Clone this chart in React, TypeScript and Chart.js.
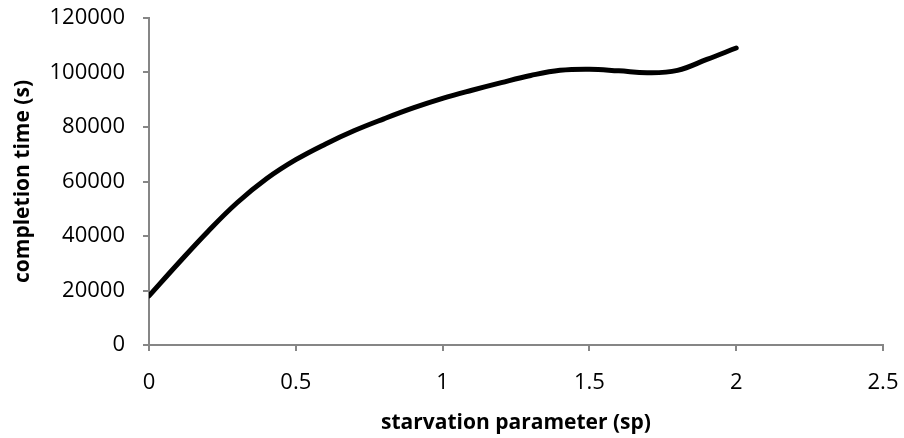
import React, { useEffect, useRef } from "react";
import { Chart, registerables } from "chart.js";

Chart.register(...registerables);

const spValues = [0, 0.1, 0.2, 0.3, 0.4, 0.5, 0.6, 0.7, 0.8, 0.9, 1.0, 1.1, 1.2, 1.3, 1.4, 1.5, 1.6, 1.7, 1.8, 1.9, 2.0];
const completionTimes = [18000, 30000, 41600, 52200, 61000, 68000, 73700, 78700, 83000, 87000, 90500, 93500, 96300, 98900, 100800, 101200, 100600, 99900, 100800, 104800, 109000];
const xTitle = "starvation parameter (sp)";
const yTitle = "completion time (s)";

const FONT = "'Open Sans', 'Noto Sans', sans-serif";
const AXIS_GRAY = "#868686";

export default function App() {
  const ref = useRef<HTMLCanvasElement | null>(null);

  useEffect(() => {
    document.body.style.margin = "0";
    const canvas = ref.current;
    if (!canvas) return;
    const chart = new Chart(canvas, {
      type: "scatter",
      data: {
        datasets: [
          {
            data: spValues.map((x, i) => ({ x, y: completionTimes[i] })),
            showLine: true,
            borderColor: "#000000",
            borderWidth: 5,
            borderCapStyle: "round",
            borderJoinStyle: "round",
            pointRadius: 0,
            pointHoverRadius: 0,
            tension: 0.4,
            fill: false,
          },
        ],
      },
      options: {
        animation: false,
        responsive: false,
        maintainAspectRatio: false,
        layout: { padding: { top: 18, right: 21, left: 0, bottom: 0 } },
        plugins: { legend: { display: false }, tooltip: { enabled: false } },
        scales: {
          x: {
            type: "linear",
            min: 0,
            max: 2.5,
            ticks: {
              stepSize: 0.5,
              color: "#000",
              font: { family: FONT, size: 22 },
              padding: 19,
              callback: (v: any) => String(v),
            },
            grid: { drawOnChartArea: false, drawTicks: true, tickLength: 6, color: AXIS_GRAY, lineWidth: 2 },
            border: { color: AXIS_GRAY, width: 2 },
            title: {
              display: true,
              text: xTitle,
              color: "#000",
              font: { family: FONT, size: 21, weight: "bold" },
              padding: { top: 4, bottom: 2 },
            },
            afterFit: (scale: any) => {
              scale.height = 93;
              scale.paddingLeft = 0;
              scale.paddingRight = 0;
            },
          },
          y: {
            type: "linear",
            min: 0,
            max: 120000,
            ticks: {
              stepSize: 20000,
              color: "#000",
              font: { family: FONT, size: 22 },
              padding: 18,
              callback: (v: any) => String(v),
            },
            grid: { drawOnChartArea: false, drawTicks: true, tickLength: 6, color: AXIS_GRAY, lineWidth: 2 },
            border: { color: AXIS_GRAY, width: 2 },
            title: {
              display: true,
              text: yTitle,
              color: "#000",
              font: { family: FONT, size: 21, weight: "bold" },
              padding: { top: 10, bottom: 4 },
            },
            afterFit: (scale: any) => {
              scale.width = 149;
              scale.paddingTop = 0;
              scale.paddingBottom = 0;
            },
          },
        },
      },
    });
    return () => chart.destroy();
  }, []);

  return (
    <div style={{ width: 904, height: 438, background: "#fff" }}>
      <canvas ref={ref} width={904} height={438} style={{ display: "block" }} />
    </div>
  );
}
